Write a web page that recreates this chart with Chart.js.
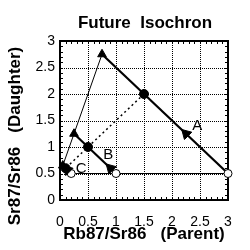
<!DOCTYPE html>
<html>
<head>
<meta charset="utf-8">
<script src="https://cdn.jsdelivr.net/npm/chart.js@4.4.0/dist/chart.umd.min.js"></script>
<style>
  html, body { margin: 0; padding: 0; background: #fff; }
</style>
</head>
<body>
<canvas id="myChart" width="250" height="250"></canvas>
<script>
// samples A, B, C: initial, present and future Rb87/Sr86 vs Sr87/Sr86
const sampleNames = ['A', 'B', 'C'];
const rbStart = [3, 1, 0.2];
const srStart = [0.5, 0.5, 0.5];
const rbNow = [1.5, 0.5, 0.1];
const srNow = [2, 1, 0.6];
const rbFuture = [0.75, 0.25, 0.05];
const srFuture = [2.75, 1.25, 0.65];
const rbArrow = [2.25, 0.9, 0.13];
const srArrow = [1.25, 0.6, 0.57];
const rbLabel = [2.45, 0.86, 0.38];
const srLabel = [1.4, 0.85, 0.58];
const axisTicks = [0, 0.5, 1, 1.5, 2, 2.5, 3];

const FONT = "'Liberation Sans', Arial, Helvetica, sans-serif";

function pts(xs, ys) {
    return xs.map((x, i) => ({ x: x, y: ys[i] }));
}

const decayLines = sampleNames.map((name, i) => ({
    label: 'decay ' + name,
    data: [{ x: rbStart[i], y: srStart[i] }, { x: rbFuture[i], y: srFuture[i] }],
    showLine: true,
    borderColor: '#000',
    borderWidth: 2.2,
    pointRadius: 0
}));

// dotted grid (pixel dots), minor ticks, frame, titles and the A/B/C labels
const decor = {
    id: 'decor',
    beforeDatasetsDraw(chart) {
        const { ctx, chartArea: a, scales } = chart;
        const L = Math.round(a.left), R = Math.round(a.right);
        const T = Math.round(a.top), B = Math.round(a.bottom);
        ctx.save();
        ctx.fillStyle = '#000';
        axisTicks.forEach(v => {
            const px = Math.round(scales.x.getPixelForValue(v));
            const py = Math.round(scales.y.getPixelForValue(v));
            for (let y = T; y <= B; y += 2) ctx.fillRect(px, y, 1, 1);
            for (let x = L; x <= R; x += 2) ctx.fillRect(x, py, 1, 1);
        });
        for (let k = 0; k <= 30; k++) {
            const px = Math.round(scales.x.getPixelForValue(k / 10));
            const py = Math.round(scales.y.getPixelForValue(k / 10));
            ctx.fillRect(px, B - 3, 1, 3);
            ctx.fillRect(px, T, 1, 3);
            ctx.fillRect(L, py, 3, 1);
            ctx.fillRect(R - 3, py, 3, 1);
        }
        ctx.fillRect(L - 1, T - 1, R - L + 2, 2);
        ctx.fillRect(L - 1, B - 1, R - L + 2, 2);
        ctx.fillRect(L - 1, T - 1, 2, B - T + 2);
        ctx.fillRect(R - 1, T - 1, 2, B - T + 2);
        ctx.restore();
    },
    afterDraw(chart) {
        const { ctx, chartArea: a, scales } = chart;
        ctx.save();
        ctx.fillStyle = '#000';
        ctx.font = '15px ' + FONT;
        ctx.textAlign = 'center';
        ctx.textBaseline = 'middle';
        sampleNames.forEach((name, i) => {
            ctx.fillText(name, scales.x.getPixelForValue(rbLabel[i]), scales.y.getPixelForValue(srLabel[i]));
        });
        ctx.font = 'bold 17px ' + FONT;
        ctx.fillText('Future  Isochron', (a.left + a.right) / 2 + 1, 23);
        ctx.translate(15, 136);
        ctx.rotate(-Math.PI / 2);
        ctx.fillText('Sr87/Sr86   (Daughter)', 0, 0);
        ctx.restore();
    }
};

const ctx = document.getElementById('myChart');
new Chart(ctx, {
    type: 'scatter',
    data: {
        datasets: [
            {
                label: 'arrows',
                data: pts(rbArrow, srArrow),
                pointStyle: 'triangle',
                rotation: -45,
                pointRadius: 6,
                backgroundColor: '#000',
                borderColor: '#000',
                clip: false
            },
            {
                label: 'future',
                data: pts(rbFuture, srFuture),
                pointStyle: 'triangle',
                pointRadius: 5,
                backgroundColor: '#000',
                borderColor: '#000',
                clip: false
            },
            {
                label: 'present',
                data: pts(rbNow, srNow),
                pointRadius: 4.5,
                backgroundColor: '#000',
                borderColor: '#000',
                clip: false
            },
            {
                label: 'initial',
                data: pts(rbStart, srStart),
                pointRadius: 4,
                backgroundColor: '#fff',
                borderColor: '#000',
                borderWidth: 1,
                clip: false
            },
            ...decayLines,
            {
                label: 'initial line',
                data: pts(rbStart, srStart),
                showLine: true,
                borderColor: '#000',
                borderWidth: 1,
                pointRadius: 0
            },
            {
                label: 'future isochron',
                data: pts(rbFuture, srFuture),
                showLine: true,
                borderColor: '#000',
                borderWidth: 1,
                pointRadius: 0
            },
            {
                label: 'present isochron',
                data: pts(rbNow, srNow),
                showLine: true,
                borderColor: '#000',
                borderWidth: 1.5,
                borderDash: [2, 3],
                pointRadius: 0
            }
        ]
    },
    options: {
        responsive: false,
        animation: false,
        layout: { padding: { left: 0, right: 22, top: 41, bottom: 0 } },
        plugins: {
            legend: { display: false },
            tooltip: { enabled: false }
        },
        scales: {
            x: {
                type: 'linear',
                min: 0,
                max: 3,
                afterFit: s => { s.height = 50; },
                afterBuildTicks: s => { s.ticks = axisTicks.map(v => ({ value: v })); },
                grid: { display: false, drawTicks: false },
                border: { display: false },
                ticks: {
                    color: '#000', padding: 14,
                    font: { family: FONT, size: 14 },
                    callback: v => String(v)
                },
                title: {
                    display: true,
                    text: 'Rb87/Sr86   (Parent)',
                    color: '#000',
                    font: { family: FONT, size: 17, weight: 'bold' },
                    padding: { top: 0, bottom: 5 }
                }
            },
            y: {
                type: 'linear',
                min: 0,
                max: 3,
                afterFit: s => { s.width = 60; },
                afterBuildTicks: s => { s.ticks = axisTicks.map(v => ({ value: v })); },
                grid: { display: false, drawTicks: false },
                border: { display: false },
                ticks: {
                    color: '#000', padding: 5,
                    font: { family: FONT, size: 14 },
                    callback: v => String(v)
                }
            }
        }
    },
    plugins: [decor]
});
</script>
</body>
</html>
